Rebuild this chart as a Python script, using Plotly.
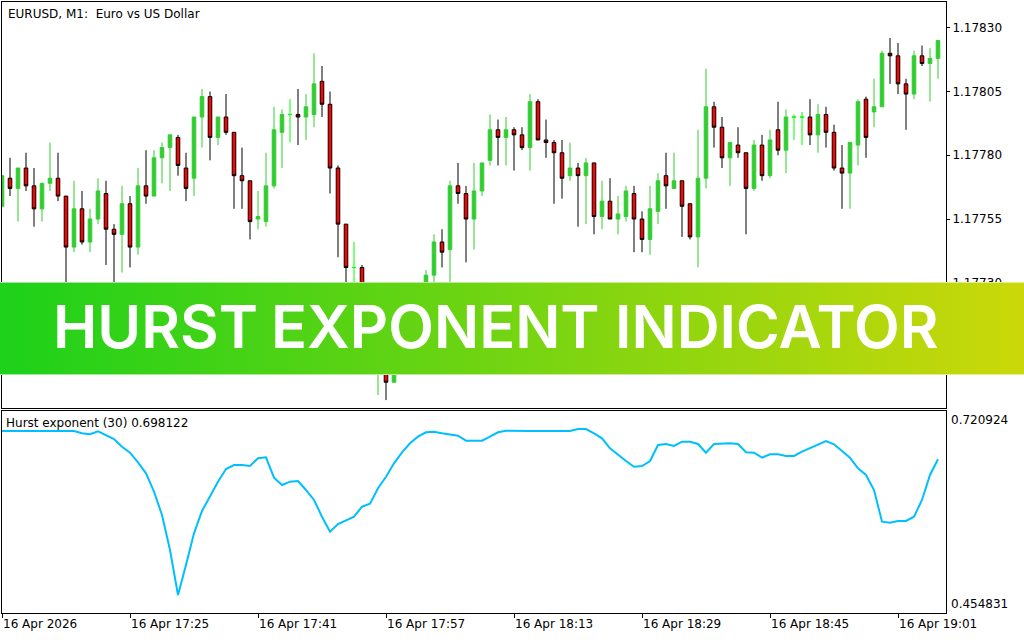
import plotly.graph_objects as go
import pandas as pd

# ---------------- data ----------------
symbol_title = "EURUSD, M1:\u00a0 Euro vs US Dollar"
indicator_title = "Hurst exponent (30) 0.698122"
banner_words = ["HURST", "EXPONENT", "INDICATOR"]

times = pd.date_range("2026-04-16 17:09", periods=118, freq="min")

open_ = [1.17760, 1.17771, 1.17767, 1.17775, 1.17768, 1.17759, 1.17769, 1.17771, 1.17764, 1.17744,
         1.17759, 1.17746, 1.17755, 1.17765, 1.17751, 1.17749, 1.17761, 1.17744, 1.17768, 1.17764,
         1.17779, 1.17783, 1.17787, 1.17775, 1.17771, 1.17795, 1.17803, 1.17787, 1.17795, 1.17789,
         1.17772, 1.17770, 1.17755, 1.17754, 1.17768, 1.17789, 1.17796, 1.17796, 1.17795, 1.17796,
         1.17809, 1.17800, 1.17775, 1.17753, 1.17736, 1.17736, 1.17723, 1.17698, 1.17706, 1.17691,
         1.17700, 1.17712, 1.17708, 1.17723, 1.17733, 1.17746, 1.17743, 1.17768, 1.17765, 1.17755,
         1.17766, 1.17778, 1.17790, 1.17787, 1.17790, 1.17788, 1.17783, 1.17801, 1.17786, 1.17785,
         1.17781, 1.17772, 1.17775, 1.17772, 1.17777, 1.17756, 1.17762, 1.17755, 1.17756, 1.17765,
         1.17755, 1.17747, 1.17758, 1.17772, 1.17767, 1.17770, 1.17761, 1.17748, 1.17771, 1.17799,
         1.17791, 1.17779, 1.17784, 1.17781, 1.17767, 1.17784, 1.17772, 1.17790, 1.17782, 1.17795,
         1.17795, 1.17795, 1.17788, 1.17796, 1.17789, 1.17775, 1.17773, 1.17784, 1.17802, 1.17797,
         1.17799, 1.17820, 1.17819, 1.17808, 1.17804, 1.17819, 1.17816, 1.17818]

high = [1.17772, 1.17779, 1.17775, 1.17781, 1.17775, 1.17769, 1.17785, 1.17781, 1.17764, 1.17770,
        1.17766, 1.17759, 1.17771, 1.17770, 1.17753, 1.17768, 1.17764, 1.17775, 1.17782, 1.17782,
        1.17785, 1.17788, 1.17788, 1.17781, 1.17795, 1.17806, 1.17805, 1.17795, 1.17804, 1.17789,
        1.17783, 1.17770, 1.17766, 1.17781, 1.17799, 1.17798, 1.17802, 1.17806, 1.17804, 1.17820,
        1.17815, 1.17805, 1.17776, 1.17753, 1.17746, 1.17737, 1.17725, 1.17708, 1.17708, 1.17702,
        1.17713, 1.17715, 1.17725, 1.17735, 1.17749, 1.17751, 1.17770, 1.17777, 1.17768, 1.17777,
        1.17777, 1.17796, 1.17794, 1.17795, 1.17791, 1.17791, 1.17804, 1.17802, 1.17794, 1.17786,
        1.17786, 1.17785, 1.17777, 1.17779, 1.17777, 1.17770, 1.17771, 1.17764, 1.17768, 1.17768,
        1.17758, 1.17768, 1.17773, 1.17781, 1.17781, 1.17770, 1.17761, 1.17790, 1.17814, 1.17801,
        1.17795, 1.17785, 1.17791, 1.17781, 1.17786, 1.17788, 1.17790, 1.17801, 1.17798, 1.17796,
        1.17797, 1.17802, 1.17800, 1.17799, 1.17792, 1.17784, 1.17785, 1.17802, 1.17803, 1.17810,
        1.17821, 1.17826, 1.17824, 1.17810, 1.17821, 1.17823, 1.17822, 1.17825]

low = [1.17760, 1.17764, 1.17754, 1.17766, 1.17752, 1.17754, 1.17766, 1.17762, 1.17725, 1.17742,
       1.17745, 1.17742, 1.17753, 1.17737, 1.17726, 1.17734, 1.17736, 1.17741, 1.17761, 1.17764,
       1.17769, 1.17766, 1.17772, 1.17762, 1.17764, 1.17783, 1.17778, 1.17784, 1.17788, 1.17759,
       1.17759, 1.17747, 1.17751, 1.17752, 1.17767, 1.17775, 1.17785, 1.17784, 1.17786, 1.17791,
       1.17795, 1.17765, 1.17740, 1.17729, 1.17728, 1.17721, 1.17704, 1.17686, 1.17684, 1.17691,
       1.17698, 1.17704, 1.17706, 1.17721, 1.17728, 1.17736, 1.17728, 1.17761, 1.17738, 1.17743,
       1.17764, 1.17776, 1.17776, 1.17776, 1.17774, 1.17782, 1.17774, 1.17786, 1.17779, 1.17761,
       1.17763, 1.17770, 1.17752, 1.17753, 1.17749, 1.17751, 1.17755, 1.17749, 1.17754, 1.17742,
       1.17742, 1.17741, 1.17753, 1.17759, 1.17767, 1.17748, 1.17747, 1.17736, 1.17767, 1.17783,
       1.17775, 1.17768, 1.17779, 1.17749, 1.17766, 1.17770, 1.17771, 1.17780, 1.17773, 1.17786,
       1.17784, 1.17784, 1.17781, 1.17783, 1.17774, 1.17759, 1.17759, 1.17776, 1.17779, 1.17791,
       1.17799, 1.17808, 1.17804, 1.17790, 1.17802, 1.17815, 1.17801, 1.17810]

close = [1.17772, 1.17767, 1.17775, 1.17768, 1.17759, 1.17769, 1.17771, 1.17764, 1.17744, 1.17759,
         1.17746, 1.17755, 1.17766, 1.17751, 1.17749, 1.17761, 1.17744, 1.17768, 1.17764, 1.17779,
         1.17783, 1.17788, 1.17776, 1.17767, 1.17795, 1.17803, 1.17787, 1.17795, 1.17789, 1.17772,
         1.17770, 1.17754, 1.17756, 1.17768, 1.17790, 1.17796, 1.17796, 1.17795, 1.17799, 1.17808,
         1.17800, 1.17775, 1.17753, 1.17736, 1.17736, 1.17723, 1.17706, 1.17706, 1.17691, 1.17700,
         1.17712, 1.17708, 1.17723, 1.17733, 1.17746, 1.17742, 1.17768, 1.17765, 1.17755, 1.17766,
         1.17777, 1.17790, 1.17787, 1.17790, 1.17788, 1.17783, 1.17801, 1.17786, 1.17785, 1.17781,
         1.17771, 1.17775, 1.17772, 1.17777, 1.17756, 1.17762, 1.17755, 1.17757, 1.17766, 1.17755,
         1.17747, 1.17759, 1.17770, 1.17768, 1.17770, 1.17760, 1.17748, 1.17771, 1.17799, 1.17791,
         1.17779, 1.17785, 1.17781, 1.17767, 1.17784, 1.17772, 1.17786, 1.17782, 1.17795, 1.17795,
         1.17795, 1.17788, 1.17796, 1.17789, 1.17775, 1.17773, 1.17785, 1.17801, 1.17787, 1.17799,
         1.17820, 1.17819, 1.17808, 1.17804, 1.17819, 1.17816, 1.17818, 1.17825]

hurst = [0.69458, 0.69458, 0.69458, 0.69458, 0.69458, 0.69458, 0.69458, 0.69458, 0.69458, 0.69458,
         0.69155, 0.69023, 0.69418, 0.68931, 0.68404, 0.67390, 0.66599, 0.65335, 0.63886, 0.61462,
         0.58393, 0.53782, 0.47854, 0.51806, 0.55982, 0.58919, 0.60935, 0.62779, 0.64452, 0.64979,
         0.64979, 0.64847, 0.65862, 0.65993, 0.63306, 0.62344, 0.62779, 0.62871, 0.61686, 0.60368,
         0.58169, 0.56192, 0.57207, 0.57734, 0.58169, 0.59486, 0.59881, 0.61910, 0.63438, 0.65203,
         0.66652, 0.67838, 0.68707, 0.69287, 0.69366, 0.69155, 0.69023, 0.68839, 0.68180, 0.68180,
         0.68180, 0.68707, 0.69287, 0.69497, 0.69458, 0.69458, 0.69458, 0.69458, 0.69458, 0.69458,
         0.69458, 0.69458, 0.69721, 0.69721, 0.69155, 0.68496, 0.67179, 0.66296, 0.65506, 0.64755,
         0.64847, 0.65506, 0.67614, 0.67745, 0.67482, 0.68048, 0.68048, 0.67745, 0.66599, 0.67745,
         0.67838, 0.67838, 0.67745, 0.66652, 0.66599, 0.65941, 0.66389, 0.66389, 0.66165, 0.66165,
         0.66731, 0.67179, 0.67706, 0.68141, 0.67706, 0.66823, 0.65941, 0.64544, 0.63662, 0.61686,
         0.57510, 0.57378, 0.57602, 0.57602, 0.58169, 0.60368, 0.63662, 0.65730]

time_tick_vals = ["2026-04-16 17:09", "2026-04-16 17:25", "2026-04-16 17:41", "2026-04-16 17:57",
                  "2026-04-16 18:13", "2026-04-16 18:29", "2026-04-16 18:45", "2026-04-16 19:01"]
time_tick_text = ["16 Apr 2026", "16 Apr 17:25", "16 Apr 17:41", "16 Apr 17:57",
                  "16 Apr 18:13", "16 Apr 18:29", "16 Apr 18:45", "16 Apr 19:01"]
price_ticks = [1.17830, 1.17805, 1.17780, 1.17755, 1.17730, 1.17705]
price_range = [1.176809, 1.178401]
hurst_range = [0.454831, 0.720924]
x_range = ["2026-04-16 17:09:00", "2026-04-16 19:07:00"]

# ---------------- figure ----------------
FONT = "DejaVu Sans"
fig = go.Figure()

norm = [i for i in range(len(times)) if open_[i] != close[i]]
doji = [i for i in range(len(times)) if open_[i] == close[i]]

def pick(arr, idx):
    return [arr[i] for i in idx]

fig.add_trace(go.Candlestick(
    x=pick(list(times), norm), open=pick(open_, norm), high=pick(high, norm),
    low=pick(low, norm), close=pick(close, norm),
    increasing=dict(line=dict(color="#32CD32", width=1), fillcolor="#32CD32"),
    decreasing=dict(line=dict(color="#000000", width=1), fillcolor="#FF0000"),
    whiskerwidth=0, showlegend=False, xaxis="x", yaxis="y"))

fig.add_trace(go.Candlestick(
    x=pick(list(times), doji), open=pick(open_, doji), high=pick(high, doji),
    low=pick(low, doji), close=pick(close, doji),
    increasing=dict(line=dict(color="#00FF00", width=1), fillcolor="#00FF00"),
    decreasing=dict(line=dict(color="#00FF00", width=1), fillcolor="#00FF00"),
    whiskerwidth=0, showlegend=False, xaxis="x", yaxis="y"))

fig.add_trace(go.Scatter(
    x=times, y=hurst, mode="lines", line=dict(color="#00BFFF", width=2),
    showlegend=False, xaxis="x2", yaxis="y2"))

axis_common = dict(showline=True, mirror=True, linecolor="#000000", linewidth=1,
                   showgrid=False, zeroline=False)

fig.update_layout(
    width=1024, height=640,
    margin=dict(l=2, r=78, t=2, b=27, autoexpand=False),
    paper_bgcolor="#FFFFFF", plot_bgcolor="#FFFFFF",
    font=dict(family=FONT, size=12, color="#000000"),
    boxgap=0.36,
    xaxis=dict(domain=[0, 1], anchor="y", range=x_range, type="date",
               showticklabels=False, ticks="", rangeslider=dict(visible=False),
               **axis_common),
    xaxis2=dict(domain=[0, 1], anchor="y2", range=x_range, type="date", matches="x",
                tickmode="array", tickvals=time_tick_vals, ticktext=time_tick_text,
                ticks="outside", ticklen=4, tickcolor="#000000",
                ticklabelposition="outside right",
                tickfont=dict(family=FONT, size=12, color="#000000"),
                rangeslider=dict(visible=False), **axis_common),
    yaxis=dict(domain=[0.33552, 1], anchor="x", side="right", range=price_range,
               tickmode="array", tickvals=price_ticks, tickformat=".5f",
               ticks="outside", ticklen=3, tickcolor="#000000",
               tickfont=dict(family=FONT, size=12, color="#000000"), **axis_common),
    yaxis2=dict(domain=[0, 0.33061], anchor="x2", side="right", range=hurst_range,
                showticklabels=False, ticks="", **axis_common),
)

# gradient banner (decoration)
PW = 944.0   # plot area width in px
PH = 611.0   # plot area height in px
def px_to_paper_x(px):
    return (px - 2) / PW
def px_to_paper_y(py):
    return (613 - py) / PH

c0 = (29, 209, 26)
c1 = (203, 216, 9)
n = 128
shapes = []
for i in range(n):
    t = (i + 0.5) / n
    col = "rgb(%d,%d,%d)" % tuple(round(c0[j] + (c1[j] - c0[j]) * t) for j in range(3))
    x0 = i * 1024 / n
    x1 = x0 + 1024 / n + 0.6
    shapes.append(dict(type="rect", xref="paper", yref="paper",
                       x0=px_to_paper_x(x0), x1=px_to_paper_x(x1),
                       y0=px_to_paper_y(375), y1=px_to_paper_y(282),
                       fillcolor=col, line=dict(width=0), layer="above"))
for yy in (282.5, 374.5):
    shapes.append(dict(type="line", xref="paper", yref="paper",
                       x0=px_to_paper_x(0), x1=px_to_paper_x(1024),
                       y0=px_to_paper_y(yy), y1=px_to_paper_y(yy),
                       line=dict(color="rgba(255,255,255,0.55)", width=1), layer="above"))
fig.update_layout(shapes=shapes)

word_left_px = [51, 269, 613]
annotations = []
for word, wx in zip(banner_words, word_left_px):
    annotations.append(dict(text=word, xref="paper", yref="paper",
                            x=px_to_paper_x(wx), y=px_to_paper_y(325.5), xanchor="left", yanchor="middle",
                            showarrow=False,
                            font=dict(family="Inter", size=59.5, color="#FFFFFF", weight=600)))
annotations += [
    dict(text=symbol_title, xref="paper", yref="paper",
         x=px_to_paper_x(6), y=px_to_paper_y(13.5), xanchor="left", yanchor="middle",
         showarrow=False, font=dict(family=FONT, size=12, color="#000000")),
    dict(text=indicator_title, xref="paper", yref="paper",
         x=px_to_paper_x(4), y=px_to_paper_y(423), xanchor="left", yanchor="middle",
         showarrow=False, font=dict(family=FONT, size=12, color="#000000")),
    dict(text="%.6f" % hurst_range[1], xref="paper", yref="y2",
         x=1, y=hurst_range[1], xanchor="left", yanchor="top", xshift=3,
         showarrow=False, font=dict(family=FONT, size=12, color="#000000")),
    dict(text="%.6f" % hurst_range[0], xref="paper", yref="y2",
         x=1, y=hurst_range[0], xanchor="left", yanchor="bottom", xshift=3,
         showarrow=False, font=dict(family=FONT, size=12, color="#000000")),
]
fig.update_layout(annotations=annotations)

fig.write_html("out.html", config={"displayModeBar": False},
               post_script="document.body.style.margin='0px';")
